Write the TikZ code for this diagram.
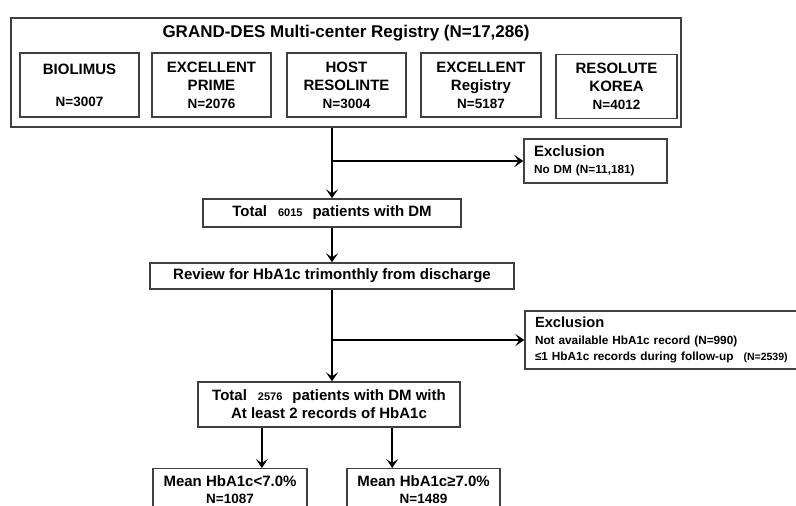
\documentclass[tikz,border=0pt]{standalone}
\usepackage{fontspec}
\setmainfont{Liberation Sans}
\usetikzlibrary{arrows.meta,calc}
\begin{document}
\begin{tikzpicture}[x=1pt, y=-1pt,
                      box/.style={draw=black!75, line width=1.3pt, inner sep=0pt, align=center},
                      arr/.style={black, line width=2pt, -{Stealth[length=9pt,width=12pt,inset=4pt]}},
                      big/.style={font=\bfseries\fontsize{17}{20}\selectfont},
                      mid/.style={font=\bfseries\fontsize{15}{18}\selectfont},
                      note/.style={font=\bfseries\fontsize{11.8}{16.5}\selectfont}]
                      \useasboundingbox (0,0) rectangle (796,506);
                      \clip (0,0) rectangle (796,506);

                      \node[box, minimum width=670, minimum height=109] (reg) at (346,72.5) {};
                      \node[big] (regtitle) at (346,33) {GRAND-DES Multi-center Registry (N=17,286)};
                      \foreach \nm/\cx/\cy/\bw/\txt in {bio/79.5/85/119/{BIOLIMUS\\[14pt]\fontsize{13.5}{18}\selectfont N=3007},
                              prime/211.5/85/119/{EXCELLENT\\PRIME\\\fontsize{13.5}{18}\selectfont N=2076},
                              host/346.5/85/119/{HOST\\RESOLINTE\\\fontsize{13.5}{18}\selectfont N=3004},
                              exreg/481/85/120/{EXCELLENT\\Registry\\\fontsize{13.5}{18}\selectfont N=5187},
                              korea/616.5/86.5/121/{RESOLUTE\\KOREA\\\fontsize{13.5}{18}\selectfont N=4012}} {
                              \node[box, mid, minimum width=\bw, minimum height=64] (\nm) at (\cx,\cy) {\txt};
                          }

                      \node[box, note, text width=123, inner xsep=10, minimum height=44, align=left] (excl1) at (595.5,161)
                          {{\fontsize{15}{17}\selectfont Exclusion}\\No DM (N=11,181)};
                      \node[box, mid, minimum width=258, minimum height=28] (total1) at (332,213)
                          {Total\hspace{11pt}{\fontsize{11}{12}\selectfont 6015}\hspace{10pt}patients with DM};
                      \node[box, mid, minimum width=364, minimum height=26] (review) at (332,276)
                          {Review for HbA1c trimonthly from discharge};
                      \node[box, note, text width=255, inner xsep=10, minimum height=58, align=left] (excl2) at (662.5,340)
                          {{\fontsize{14.7}{16.5}\selectfont Exclusion}\\Not available HbA1c record (N=990)\\
                           ≤1 HbA1c records during follow-up\hspace{10pt}{\fontsize{10.5}{12}\selectfont (N=2539)}};
                      \node[box, mid, minimum width=262, minimum height=45] (total2) at (329,404.5)
                          {Total\hspace{11pt}{\fontsize{11}{12}\selectfont 2576}\hspace{10pt}patients with DM with\\At least 2 records of HbA1c};
                      \node[box, mid, anchor=north, minimum width=154, inner ysep=7] (low) at (230,468)
                          {Mean HbA1c<7.0\%\\[-1pt]\fontsize{13.5}{17}\selectfont N=1087};
                      \node[box, mid, anchor=north, minimum width=153, inner ysep=7] (high) at (423.5,468)
                          {Mean HbA1c≥7.0\%\\[-1pt]\fontsize{13.5}{17}\selectfont N=1489};

                      \draw[arr] (total1.north |- reg.south) -- (total1.north);
                      \draw[arr] (total1.north |- excl1.west) -- (excl1.west);
                      \draw[arr] (total1.south) -- (review.north);
                      \draw[arr] (review.south) -- (review.south |- total2.north);
                      \draw[arr] (review.south |- excl2.west) -- (excl2.west);

                      \path ($(total2.south west)!0.245!(total2.south east)$) coordinate (tl)
                            ($(total2.south west)!0.74!(total2.south east)$) coordinate (tr);
                      \draw[arr] (tl) -- (tl |- low.north);
                      \draw[arr] (tr) -- (tr |- high.north);

                  \end{tikzpicture}
\end{document}
